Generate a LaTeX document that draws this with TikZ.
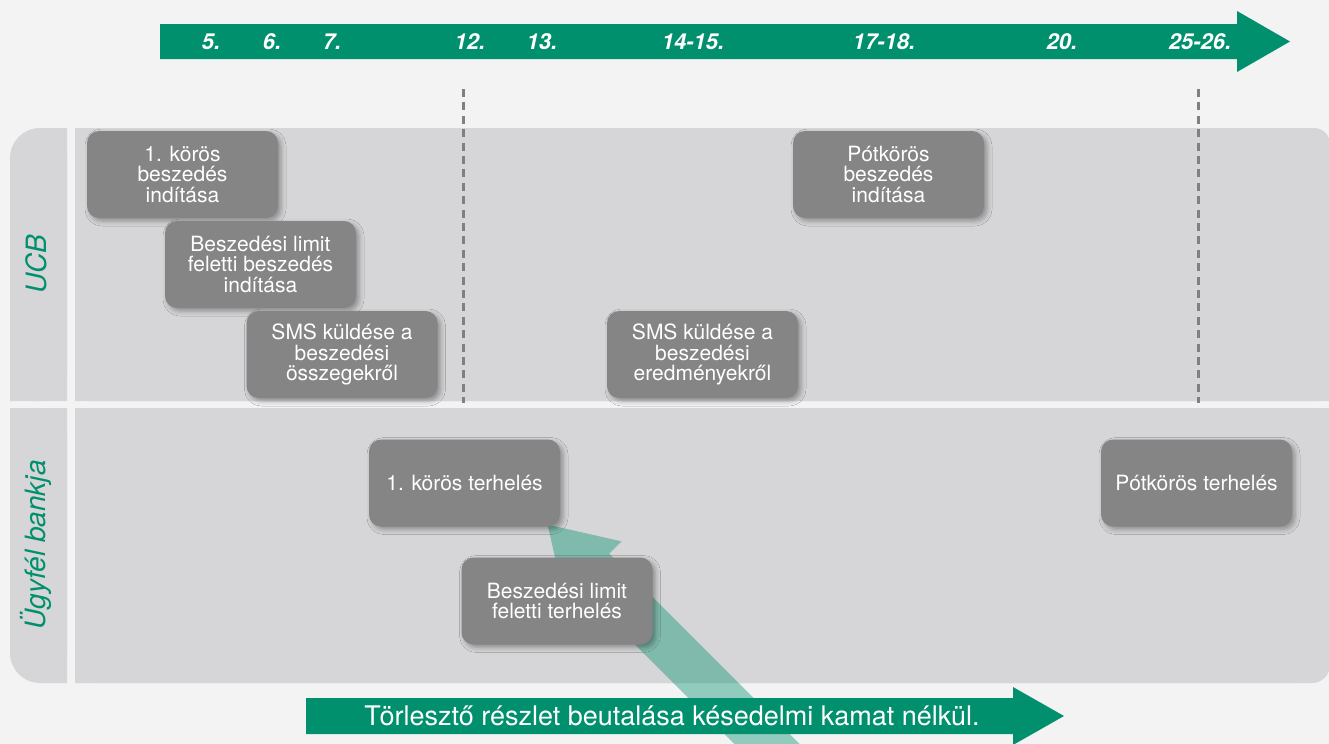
\documentclass[tikz,border=0pt]{standalone}
\usepackage{fontspec}
\setmainfont{TeX Gyre Heros}
\usepackage{tikz}
\usetikzlibrary{arrows.meta,shadows.blur}
\definecolor{ucbgreen}{HTML}{00906E}
\definecolor{lanegray}{HTML}{D6D6D8}
\definecolor{boxgray}{HTML}{858585}
\definecolor{pagegray}{HTML}{F3F3F3}
\definecolor{dashgray}{HTML}{808080}

\begin{document}
\begin{tikzpicture}[x=0.5pt,y=-0.5pt]
\tikzstyle{box}=[fill=boxgray,text=white,rounded corners=6pt,minimum width=95.5pt,minimum height=43.5pt,inner sep=0pt,align=center,font=\fontsize{10.5}{10.3}\selectfont,blur shadow={shadow xshift=1.5pt,shadow yshift=-1.5pt,shadow blur radius=2.5pt,shadow opacity=35}]
\tikzstyle{lanelabel}=[rotate=90,text=ucbgreen,font=\fontsize{14}{14}\selectfont\itshape]
\tikzstyle{day}=[text=white,font=\fontsize{11}{11}\selectfont\bfseries\itshape]
\tikzstyle{daydash}=[dashgray,line width=1.5pt,dash pattern=on 4pt off 2.7pt]
\fill[pagegray] (0,0) rectangle (1329,744);
\useasboundingbox (0,0) rectangle (1329,744);

% lanes
\fill[lanegray,rounded corners=15pt] (10,128) rectangle (67,401);
\fill[lanegray] (40,128) rectangle (67,401) (10,160) rectangle (67,401);
\fill[lanegray,rounded corners=8pt] (75,128) rectangle (1330,401);
\fill[lanegray] (75,128) rectangle (1300,401) (75,150) rectangle (1330,401);
\fill[lanegray,rounded corners=15pt] (10,408) rectangle (67,683);
\fill[lanegray] (10,408) rectangle (67,650) (40,408) rectangle (67,683);
\fill[lanegray,rounded corners=9pt] (75,408) rectangle (1330,683);
\fill[lanegray] (75,408) rectangle (1330,660) (75,408) rectangle (1300,683);
\node[lanelabel] (ucb) at (36,264) {UCB};
\node[lanelabel] (bank) at (36,545) {Ügyfél bankja};

\draw[daydash] (463,89) -- (463,403);
\draw[daydash] (1198,89) -- (1198,403);

% time axis
\fill[ucbgreen] (160,24) -- (1237,24) -- (1237,11) -- (1290,41.5) -- (1237,72) -- (1237,59) -- (160,59) -- cycle;
\foreach [count=\i] \x/\d in {211/5.,272/6.,332/7.,470/12.,542/13.,693/14-15.,884/17-18.,1062/20.,1200/25-26.}
  \node[day] (day\i) at (\x,42) {\d};

% payment arrow behind the boxes
\coordinate (bandtip) at (547,524);
\coordinate (bandtail) at (847,824);
\begin{scope}[transparency group,opacity=0.4]
\draw[ucbgreen,line width=23pt,-{Triangle[length=32.5pt,width=38pt]}] (bandtail) -- (bandtip);
\end{scope}

\node[box] (kor1bsz) at (182.5,174.5) {1. körös\\beszedés\\indítása};
\node[box] (limbsz) at (260.5,264.5) {Beszedési limit\\feletti beszedés\\indítása};
\node[box] (smsossz) at (342,354.5) {SMS küldése a\\beszedési\\összegekről};
\node[box] (smseredm) at (702.5,354.5) {SMS küldése a\\beszedési\\eredményekről};
\node[box] (potbsz) at (888.5,174.5) {Pótkörös\\beszedés\\indítása};
\node[box] (kor1terh) at (464.5,483) {1. körös terhelés};
\node[box] (limterh) at (557,601) {Beszedési limit\\feletti terhelés};
\node[box] (potterh) at (1196.5,483) {Pótkörös terhelés};

\fill[ucbgreen] (306,698) -- (1013,698) -- (1013,687) -- (1064,716) -- (1013,745) -- (1013,734) -- (306,734) -- cycle;
\node[text=white,font=\fontsize{13.5}{13.5}\selectfont] (note) at (672,716) {Törlesztő részlet beutalása késedelmi kamat nélkül.};
\end{tikzpicture}
\end{document}
